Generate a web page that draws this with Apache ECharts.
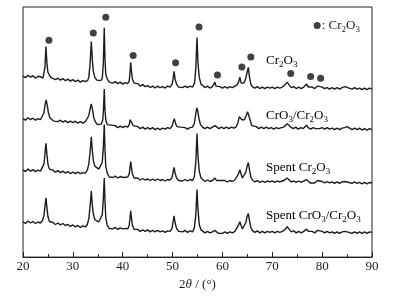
<!DOCTYPE html>
<html>
<head>
<meta charset="utf-8">
<script src="https://cdn.jsdelivr.net/npm/echarts@6/dist/echarts.min.js"></script>
<style>
html,body{margin:0;padding:0;background:#fff;}
#xrd{width:419px;height:296px;}
</style>
</head>
<body>
<div id="xrd"></div>
<script>
// 2θ (°) vs intensity (a.u.)
var cr2o3 = [
  [20,183],[20.5,181.5],[21,184],[21.5,182],[22,183.5],[22.5,181],[23,183],[23.5,182.5],[24,181],
  [24.2,183],[24.4,192],[24.6,213],[24.8,196],[25,187],[25.3,184],[25.6,181.5],[26,182],[26.5,179.5],
  [27,181],[27.5,179],[28,180.5],[28.5,178.5],[29,180],[29.5,178],[30,179.5],[30.5,177.5],[31,179],
  [31.5,177],[32,178.5],[32.5,177.5],[33,179],[33.2,182],[33.45,195],[33.7,218],[33.9,200],[34.1,188],
  [34.4,182],[34.8,179],[35.2,177],[35.6,178.5],[35.9,181],[36.1,195],[36.3,232],[36.45,200],[36.6,185],
  [36.9,180],[37.3,177],[37.7,178.5],[38,176],[38.5,177.5],[39,175.5],[39.5,177],[40,175],[40.5,176.5],
  [41,175.5],[41.3,178],[41.45,186],[41.6,197],[41.75,188],[41.95,180],[42.3,176],[42.7,174],[43,175.5],
  [43.5,173],[44,174.5],[44.5,172.5],[45,173.5],[45.5,171.5],[46,173],[46.5,171],[47,173],[47.5,171.5],
  [48,172.5],[48.5,171],[49,173],[49.5,172],[49.9,175],[50.1,180],[50.3,188],[50.5,180],[50.8,175],
  [51.2,172],[51.5,173.5],[52,171.5],[52.5,173],[53,171.5],[53.5,173],[54,172],[54.4,176],[54.65,190],
  [54.9,222],[55.1,196],[55.35,182],[55.7,175],[56,173],[56.5,171.5],[57,173],[57.5,171],[58,172.5],
  [58.3,174],[58.5,177],[58.7,173],[59,171],[59.5,172.5],[60,171],[60.5,172.5],[61,171],[61.5,172.5],
  [62,171.5],[62.5,173],[63,174.5],[63.3,178],[63.5,182],[63.75,176],[64,174.5],[64.3,176],[64.7,181],
  [64.95,187],[65.2,192],[65.4,183],[65.7,175],[66,172.5],[66.5,171],[67,172.5],[67.5,170.5],[68,172],
  [68.5,170.5],[69,172],[69.5,171],[70,172],[70.5,170.5],[71,172],[71.5,171],[72,172],[72.5,174],
  [73,177],[73.4,174],[73.8,171.5],[74.3,172.5],[74.8,170.5],[75.3,172],[75.8,170.5],[76.3,172],
  [76.7,173.5],[76.9,175],[77.2,172],[77.6,170.5],[78,172],[78.5,170.5],[78.9,172],[79.1,173],[79.4,171],
  [80,172],[80.5,170.5],[81,171.5],[81.5,170],[82,171.5],[82.5,170],[83,171.5],[83.5,170],[84,171.5],
  [84.6,172.5],[85,173],[85.4,171],[86,170],[86.5,171.5],[87,170],[87.5,171],[88,169.5],[88.5,171],
  [89,169.5],[89.5,171],[90,170]
];
var cro3Cr2o3 = [
  [20,140],[20.5,138.5],[21,141],[21.5,139],[22,140.5],[22.5,138.5],[23,140],[23.5,139],[23.9,141],
  [24.2,146],[24.45,155],[24.65,159],[24.85,154],[25.1,146],[25.4,141],[25.8,139],[26.2,137.5],[26.6,139],
  [27,137],[27.5,138.5],[28,136.5],[28.5,138],[29,136],[29.5,137.5],[30,136],[30.5,137.5],[31,135.5],
  [31.5,137],[32,135.5],[32.5,137],[32.9,139],[33.2,143],[33.5,151],[33.7,155],[33.95,149],[34.2,141],
  [34.5,137],[34.9,134],[35.3,133],[35.7,134.5],[36,139],[36.15,150],[36.3,170],[36.45,148],[36.6,139],
  [36.9,134],[37.3,132],[37.7,133.5],[38,131.5],[38.5,133],[39,131],[39.5,132.5],[40,131],[40.5,132.5],
  [41,131.5],[41.3,134],[41.5,139],[41.65,141],[41.85,137],[42.1,133],[42.5,131],[43,132],[43.5,130],
  [44,131.5],[44.5,129.5],[45,131],[45.5,129.5],[46,131],[46.5,129],[47,130.5],[47.5,129],[48,130.5],
  [48.5,129.5],[49,131],[49.5,130],[49.9,132.5],[50.15,137],[50.35,140],[50.55,136],[50.85,132],
  [51.2,130],[51.6,131.5],[52,129.5],[52.5,131],[53,129.5],[53.5,131],[54,131.5],[54.35,135],[54.6,143],
  [54.85,151],[55.05,148],[55.3,140],[55.6,134],[56,131.5],[56.5,130],[57,131.5],[57.5,130],[58,131.5],
  [58.5,133],[58.9,131],[59.3,130],[59.8,131.5],[60.3,130],[60.8,131.5],[61.3,130],[61.8,131.5],
  [62.3,130.5],[62.8,132],[63.1,136],[63.4,142],[63.6,143],[63.85,139],[64.1,137],[64.4,139],[64.75,143],
  [65.05,147],[65.3,145],[65.6,138],[65.9,133],[66.3,131],[66.8,132],[67.3,130],[67.8,131.5],[68.3,130],
  [68.8,131.5],[69.3,130],[69.8,131],[70.3,129.5],[70.8,131],[71.3,130],[71.8,131],[72.3,131.5],
  [72.7,133],[73,135],[73.3,134],[73.7,131.5],[74.2,130],[74.7,131.5],[75.2,129.5],[75.7,131],[76.2,130],
  [76.6,131.5],[76.9,133.3],[77.2,131],[77.7,129.5],[78.2,131],[78.7,130],[79.1,132],[79.5,130],[80,131],
  [80.5,129.5],[81,131],[81.5,129.5],[82,130.5],[82.5,129],[83,130.5],[83.5,129],[84,130.5],[84.5,131],
  [85,132],[85.4,130],[86,129],[86.5,130.5],[87,129],[87.5,130.5],[88,128.5],[88.5,130],[89,128.5],
  [89.5,130],[90,129]
];
var spentCr2o3 = [
  [20,88.3],[20.5,86.5],[21,89],[21.5,87],[22,88.5],[22.5,86.5],[23,88],[23.5,87],[23.9,89],[24.2,94],
  [24.4,104],[24.6,115],[24.8,104],[25,94],[25.3,89],[25.7,87],[26,88],[26.5,86],[27,87.5],[27.5,85.5],
  [28,87],[28.5,85],[29,86.5],[29.5,84.5],[30,86],[30.5,84.5],[31,86],[31.5,84.5],[32,85.5],[32.5,85],
  [32.9,88],[33.2,94],[33.45,106],[33.7,121.7],[33.9,108],[34.1,98],[34.4,92],[34.8,90],[35.2,89],
  [35.6,91],[35.9,96],[36.1,110],[36.3,134],[36.45,108],[36.6,92],[36.9,85],[37.3,81],[37.7,82.5],
  [38,80.5],[38.5,82],[39,80],[39.5,81.5],[39.8,83],[40.1,80.5],[40.5,80],[41,81],[41.3,84],[41.45,90],
  [41.6,96.7],[41.75,91],[41.95,84],[42.3,80],[42.7,78.5],[43,80],[43.5,78],[44,79.5],[44.5,78],[45,79],
  [45.5,77.5],[46,79],[46.5,77.5],[47,79],[47.5,77.5],[48,78.5],[48.5,77],[49,78.5],[49.5,78],[49.9,80.5],
  [50.1,86],[50.3,90.7],[50.5,85],[50.8,80],[51.2,77.5],[51.5,79],[52,77],[52.5,78.5],[53,77],[53.5,78.5],
  [54,77.5],[54.35,81],[54.65,95],[54.9,125],[55.1,102],[55.35,87],[55.7,80],[56,78],[56.5,76.5],[57,78],
  [57.5,76.5],[58,77.5],[58.3,79],[58.5,80],[58.8,77.5],[59.2,76],[59.6,77.5],[60,76],[60.5,77.5],[61,76],
  [61.5,77.5],[62,76.5],[62.5,78],[62.9,80],[63.2,84],[63.5,88.3],[63.75,84],[64,80],[64.3,81],[64.7,86],
  [64.95,92],[65.2,95.7],[65.4,89],[65.7,81],[66,78],[66.5,76],[67,77.5],[67.5,75.5],[68,77],[68.5,75.5],
  [69,77],[69.5,76],[70,77],[70.5,75.5],[71,77],[71.5,76],[72,77],[72.5,78],[73,80],[73.4,78],[73.8,76],
  [74.3,77],[74.8,75.5],[75.3,77],[75.8,75.5],[76.3,77],[76.7,77.5],[76.9,78.3],[77.2,76.5],[77.6,75],
  [78,76.5],[78.5,75],[78.9,76.5],[79.1,77.5],[79.4,75.5],[80,76.5],[80.5,75],[81,76.5],[81.5,75],[82,76],
  [82.5,74.5],[83,76],[83.5,74.5],[84,76],[84.6,76.5],[85,77],[85.4,75.5],[86,74.5],[86.5,76],[87,74.5],
  [87.5,75.5],[88,74],[88.5,75.5],[89,74],[89.5,75.5],[90,75]
];
var spentCro3Cr2o3 = [
  [20,35.7],[20.5,34],[21,36.5],[21.5,34.5],[22,36],[22.5,34],[23,35.5],[23.5,34.5],[23.9,37],[24.2,42],
  [24.4,51],[24.6,60],[24.8,50],[25,41],[25.3,36],[25.7,34],[26,35],[26.5,33],[27,34.5],[27.5,32.5],
  [28,34],[28.5,32],[29,33],[29.5,31],[30,32.5],[30.5,30.5],[31,32],[31.5,30],[32,31.5],[32.5,30.5],
  [32.9,33],[33.2,39],[33.45,51],[33.7,66.7],[33.9,53],[34.1,44],[34.4,38],[34.8,36],[35.2,35.5],
  [35.6,37.5],[35.9,43],[36.1,58],[36.3,80],[36.45,56],[36.6,40],[36.9,32],[37.3,29],[37.7,30.5],
  [38,28.5],[38.5,30],[39,28],[39.5,29.5],[40,28.5],[40.5,29],[41,28.5],[41.3,32],[41.45,39],[41.6,46.7],
  [41.75,40],[41.95,32],[42.3,28],[42.7,26.5],[43,28],[43.5,26],[44,27.5],[44.5,26],[45,27.5],[45.5,25.5],
  [46,27],[46.5,25.5],[47,27],[47.5,25.5],[48,26.5],[48.5,25],[49,26.5],[49.5,26],[49.9,29],[50.1,36],
  [50.3,41.7],[50.5,35],[50.8,29],[51.2,26],[51.5,27.5],[52,25.5],[52.5,27],[53,25],[53.5,26.5],[54,25.5],
  [54.35,29],[54.65,42],[54.9,68.3],[55.1,48],[55.35,33],[55.7,27.5],[56,26],[56.5,24.5],[57,26],
  [57.5,24.5],[58,25.5],[58.5,27],[58.8,25],[59.2,24],[59.6,25.5],[60,24],[60.5,25.5],[61,24],[61.5,25.5],
  [62,24.5],[62.5,26],[62.9,28],[63.2,32],[63.5,35.7],[63.75,32],[64,28.5],[64.3,29.5],[64.7,35],
  [64.95,41],[65.2,44],[65.4,38],[65.7,30],[66,27],[66.5,25],[67,26.5],[67.5,24.5],[68,26],[68.5,24.5],
  [69,26],[69.5,25],[70,26],[70.5,24.5],[71,26],[71.5,25],[72,26],[72.5,27.5],[73,30.7],[73.4,28],
  [73.8,25.5],[74.3,26.5],[74.8,24.5],[75.3,26],[75.8,24.5],[76.3,26],[76.7,27],[76.9,28.3],[77.2,26],
  [77.6,24.5],[78,26],[78.5,24.5],[78.9,26],[79.1,27],[79.4,25],[80,26],[80.5,24.5],[81,26],[81.5,24.5],
  [82,25.5],[82.5,24],[83,25.5],[83.5,24],[84,25.5],[84.6,26],[85,26.5],[85.4,25],[86,24],[86.5,25.5],
  [87,24],[87.5,25.5],[88,24],[88.5,25.5],[89,24],[89.5,25.5],[90,25]
];
// ● Cr2O3 reflections marked above the top pattern
var peakMarks = [
  [25.2,219.3],[34.1,226.7],[36.6,242.7],[42.1,204],[50.6,196.7],[55.3,232.7],
  [59.0,184.3],[63.9,192.3],[65.7,202.3],[73.7,185.7],[77.7,182.7],[79.7,181]
];
var keyMark = [[79.0,234.3]];
var xMin = 20, xMax = 90, xStep = 10;

var serif = "'Liberation Serif','Times New Roman',serif";
var ink = '#1c1c1c';
var rich = {
  n: {fontFamily: serif, fontSize: 13, color: ink},
  s: {fontFamily: serif, fontSize: 9, color: ink, padding: [8, 0, 0, 0]},
  i: {fontFamily: serif, fontSize: 13, color: ink, fontStyle: 'italic'}
};
var names = [
  {txt: '{n|Cr}{s|2}{n|O}{s|3}', y: 54},
  {txt: '{n|CrO}{s|3}{n|/Cr}{s|2}{n|O}{s|3}', y: 109},
  {txt: '{n|Spent Cr}{s|2}{n|O}{s|3}', y: 161},
  {txt: '{n|Spent CrO}{s|3}{n|/Cr}{s|2}{n|O}{s|3}', y: 209}
];

var chart = echarts.init(document.getElementById('xrd'));

function trace(d) {
  return {
    type: 'line', data: d, showSymbol: false, silent: true,
    lineStyle: {color: ink, width: 1.4}
  };
}

var option = {
  animation: false,
  backgroundColor: '#fff',
  grid: {left: 23, right: 47, top: 7, bottom: 36, show: true, borderColor: '#222', borderWidth: 1},
  xAxis: {
    type: 'value', min: xMin, max: xMax, interval: xStep,
    axisLine: {show: true, lineStyle: {color: '#222'}},
    axisTick: {inside: true, length: 5, lineStyle: {color: '#222'}},
    minorTick: {show: true, splitNumber: 2, length: 3, lineStyle: {color: '#222'}},
    splitLine: {show: false},
    axisLabel: {fontFamily: serif, fontSize: 13, color: ink, margin: 3},
    name: '{n|2}{i|θ}{n| / (°)}',
    nameLocation: 'middle', nameGap: 17,
    nameTextStyle: {rich: rich}
  },
  yAxis: {
    type: 'value', min: 0, max: 253,
    axisLine: {show: false}, axisTick: {show: false},
    axisLabel: {show: false}, splitLine: {show: false}
  },
  series: [
    trace(cr2o3), trace(cro3Cr2o3), trace(spentCr2o3), trace(spentCro3Cr2o3),
    {
      type: 'scatter', data: peakMarks, symbolSize: 7, silent: true,
      itemStyle: {color: '#111'}
    },
    {
      type: 'scatter', data: keyMark, symbolSize: 7, silent: true,
      itemStyle: {color: '#111'},
      label: {
        show: true, position: 'right', distance: 1,
        color: ink, fontFamily: serif, fontSize: 13,
        textBorderWidth: 0, opacity: 1,
        formatter: '{n|: Cr}{s|2}{n|O}{s|3}', rich: rich
      }
    }
  ],
  graphic: names.map(function (o) {
    return {
      type: 'text', left: 266, top: o.y, silent: true,
      style: {text: o.txt, rich: rich}
    };
  })
};
chart.setOption(option);
</script>
</body>
</html>
